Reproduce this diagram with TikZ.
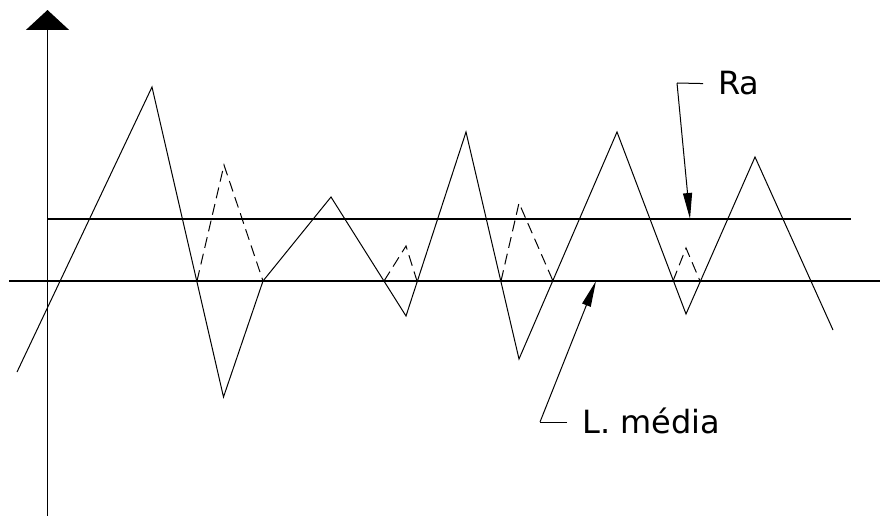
\documentclass[tikz,border=0pt]{standalone}
\usepackage{fontspec}
\setmainfont{DejaVu Sans}
\usetikzlibrary{arrows.meta,positioning}
\tikzset{
  axisline/.style={line width=1.3pt},
  refline/.style={line width=1.3pt},
  profile/.style={line width=1pt},
  mirror/.style={line width=1pt, dash pattern=on 11pt off 6pt},
  leader/.style={line width=1pt, -{Triangle[length=26pt,width=9pt]}},
  tag/.style={font=\fontsize{32}{38}\selectfont, inner sep=0pt}
}

\begin{document}
\begin{tikzpicture}[x=1pt, y=-1pt]
\useasboundingbox (0,0) rectangle (880,516);

% axis
\coordinate (ybot) at (47.5,516);
\coordinate (ytop) at (47.5,10);
\draw[axisline, -{Triangle[length=20pt,width=43pt]}] (ybot) -- (ytop);

% mean line and Ra line
\coordinate (mL) at (9,281);   \coordinate (mR) at (880,281);
\coordinate (rL) at (47.5,219); \coordinate (rR) at (851,219);
\draw[refline] (mL) -- (mR);
\draw[refline] (rL) -- (rR);

% profile
\coordinate (p0) at (17,372);   \coordinate (p1) at (152,87);
\coordinate (c1) at (197,281);  \coordinate (p2) at (223.5,397);
\coordinate (c2) at (263,281);  \coordinate (p3) at (331,197);
\coordinate (c3) at (384,281);  \coordinate (p4) at (406,316);
\coordinate (c4) at (417,281);  \coordinate (p5) at (466,132);
\coordinate (c5) at (501,281);  \coordinate (p6) at (519,359);
\coordinate (c6) at (553,281);  \coordinate (p7) at (617,132);
\coordinate (c7) at (673,281);  \coordinate (p8) at (686,314);
\coordinate (c8) at (700,281);  \coordinate (p9) at (755,157);
\coordinate (p10) at (833,330);
\draw[profile] (p0) -- (p1) -- (p2) -- (c2) -- (p3) -- (p4) -- (p5)
  -- (p6) -- (p7) -- (p8) -- (p9) -- (p10);

% valleys folded up
\coordinate (q2) at (224,165);
\coordinate (q4) at (406,246);
\coordinate (q6) at (519,203);
\coordinate (q8) at (686,248);
\draw[mirror] (c1) -- (q2) -- (c2);
\draw[mirror] (c3) -- (q4) -- (c4);
\draw[mirror] (c5) -- (q6) -- (c6);
\draw[mirror] (c7) -- (q8) -- (c8);

% labels
\node[tag, anchor=base west] (ra) at (718,95) {Ra};
\coordinate (raelbow) at (677,83);
\coordinate (ratip) at (690,219);
\draw[profile] ([xshift=-15pt]ra.west) -- (raelbow);
\draw[leader] (raelbow) -- (ratip);

\node[tag, anchor=base west] (lm) at (582,433) {L. média};
\coordinate (lmelbow) at (540,422);
\coordinate (lmtip) at (596,281);
\draw[profile] (lmelbow -| lm.west) ++(-15pt,0) -- (lmelbow);
\draw[leader] (lmelbow) -- (lmtip);

\end{tikzpicture}
\end{document}
